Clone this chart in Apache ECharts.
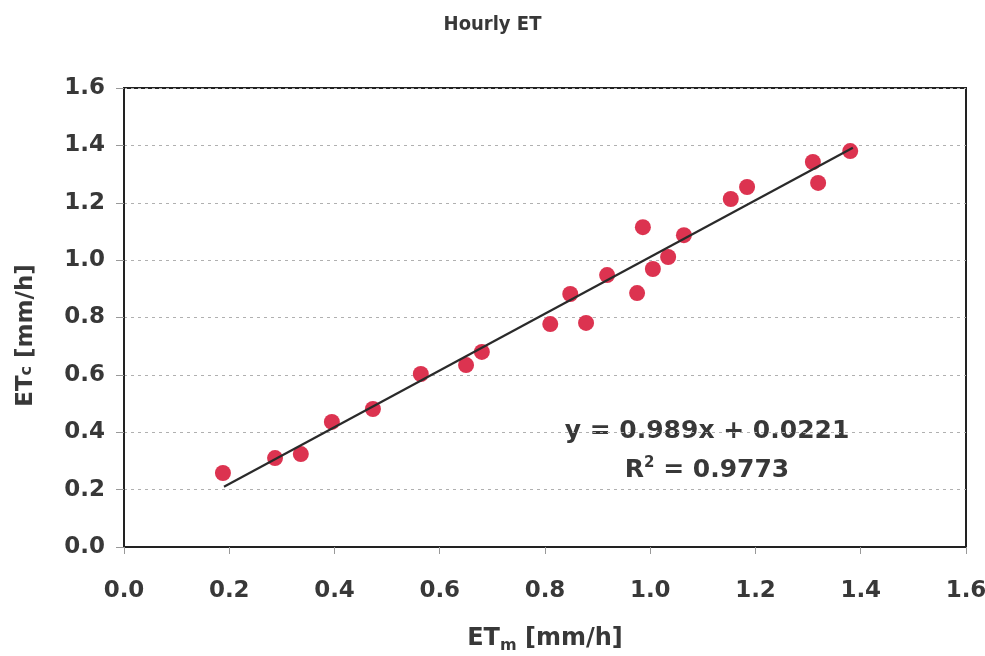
<!DOCTYPE html>
<html><head><meta charset="utf-8">
<script src="https://cdn.jsdelivr.net/npm/echarts@6/dist/echarts.min.js"></script>
<style>html,body{margin:0;padding:0;background:#fff}#c{width:985px;height:656px}</style>
</head><body><div id="c"></div>
<script>
const etm = [0.188,0.287,0.336,0.395,0.473,0.564,0.650,0.680,0.810,0.848,0.878,0.918,0.975,0.986,1.005,1.034,1.064,1.153,1.184,1.309,1.319,1.380];
const etc = [0.258,0.310,0.324,0.436,0.481,0.603,0.634,0.680,0.777,0.882,0.781,0.948,0.885,1.115,0.969,1.011,1.087,1.213,1.255,1.342,1.269,1.380];
const slope = 0.989, intercept = 0.0221, r2 = 0.9773;
const trendX = [0.19, 1.385];

const pts = etm.map((x,i)=>[x,etc[i]]);
const trend = trendX.map(x=>[x, slope*x+intercept]);
const font = 'DejaVu Sans';
const cfont = '"DejaVu Sans Condensed", "DejaVu Sans"';
const col = '#383838';
const chart = echarts.init(document.getElementById('c'));
chart.setOption({
  animation:false,
  title:{text:'Hourly ET',left:'center',top:10,textStyle:{fontFamily:cfont,fontSize:20,fontWeight:'bold',color:col}},
  grid:{left:124,right:19,top:88,bottom:109,outerBoundsMode:'none',containLabel:false,show:true,borderColor:'#222',borderWidth:2},
  xAxis:{type:'value',min:0,max:1.6,interval:0.2,
    name:'{b|ET}{s|m}{b| [mm/h]}',nameLocation:'middle',nameGap:77,
    nameTextStyle:{rich:{b:{fontFamily:font,fontSize:24,fontWeight:'bold',color:col},s:{fontFamily:font,fontSize:16,fontWeight:'bold',color:col,padding:[14,0,0,0]}}},
    axisLine:{show:true,lineStyle:{color:'#222',width:2}},
    axisTick:{show:true,length:7,lineStyle:{color:'#999'}},
    splitLine:{show:false},
    axisLabel:{margin:33,fontFamily:font,fontSize:23,fontWeight:'bold',color:col,formatter:v=>v.toFixed(1)}},
  yAxis:{type:'value',min:0,max:1.6,interval:0.2,
    name:'{b|ET}{s|c}{b| [mm/h]}',nameLocation:'middle',nameGap:86,nameRotate:90,
    nameTextStyle:{padding:[0,36,0,0],rich:{b:{fontFamily:font,fontSize:23,fontWeight:'bold',color:col},s:{fontFamily:font,fontSize:16,fontWeight:'bold',color:col}}},
    axisLine:{show:true,lineStyle:{color:'#222',width:2}},
    axisTick:{show:true,length:8,lineStyle:{color:'#999'}},
    splitLine:{show:true,lineStyle:{color:'#b0b0b0',type:[3,4],width:1}},
    axisLabel:{margin:19,fontFamily:font,fontSize:23,fontWeight:'bold',color:col,formatter:v=>v.toFixed(1)}},
  series:[
    {type:'scatter',data:pts,symbolSize:16,itemStyle:{color:'#dc3350',opacity:1},z:3},
    {type:'line',data:trend,symbol:'none',lineStyle:{color:'#2a2a2a',width:2.2},z:4}
  ],
  graphic:[
    {type:'text',x:707,y:431,style:{text:'y = '+slope+'x + '+intercept,font:'bold 25px "DejaVu Sans"',fill:col,textAlign:'center',textVerticalAlign:'middle'}},
    {type:'text',x:707,y:470,style:{text:'R{sup|2} = '+r2,font:'bold 25px "DejaVu Sans"',fill:col,textAlign:'center',textVerticalAlign:'middle',rich:{sup:{font:'bold 15px "DejaVu Sans"',fill:col,padding:[0,0,14,0]}}}}
  ]
});
</script></body></html>
